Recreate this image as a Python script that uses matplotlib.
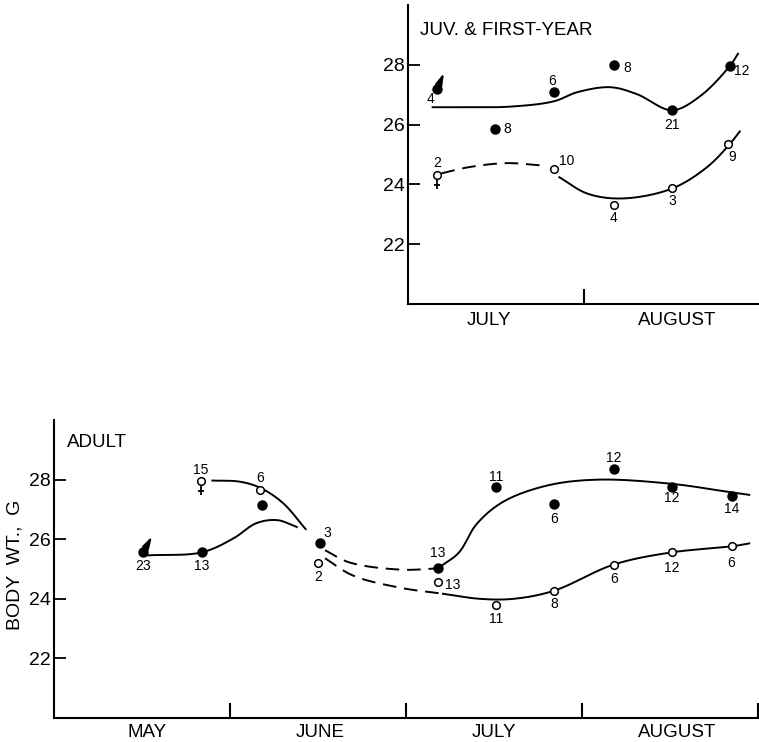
import numpy as np
import matplotlib
matplotlib.use('Agg')
import matplotlib.pyplot as plt
from matplotlib.path import Path

plt.rcParams['font.family'] = ['Liberation Sans', 'DejaVu Sans']

# верхний график: молодые и первогодки (x - месяцы от 1 июля)
juv_m_x = [0.165, 0.494, 0.83, 1.17, 1.5, 1.83]
juv_m_y = [27.19, 25.86, 27.08, 28.0, 26.48, 27.97]
juv_m_n = ['4', '8', '6', '8', '21', '12']
juv_f_x = [0.165, 0.83, 1.17, 1.5, 1.82]
juv_f_y = [24.31, 24.5, 23.32, 23.88, 25.36]
juv_f_n = ['2', '10', '4', '3', '9']

# сглаженные кривые (опорные точки)
juv_m_cx = [0.14, 0.295, 0.58, 0.83, 0.96, 1.15, 1.30, 1.5, 1.66, 1.83, 1.875]
juv_m_cy = [26.58, 26.58, 26.6, 26.78, 27.08, 27.25, 27.02, 26.48, 26.95, 27.97, 28.37]
juv_f_dx = [0.19, 0.35, 0.56, 0.75]
juv_f_dy = [24.37, 24.58, 24.71, 24.64]
juv_f_cx = [0.86, 1.02, 1.22, 1.5, 1.70, 1.83, 1.885]
juv_f_cy = [24.24, 23.69, 23.53, 23.86, 24.58, 25.36, 25.77]

# нижний график: взрослые (x - месяцы от 1 мая)
ad_m_x = [0.506, 0.84, 1.18, 1.51, 2.18, 2.51, 2.84, 3.18, 3.51, 3.85]
ad_m_y = [25.56, 25.56, 27.15, 25.86, 25.02, 27.76, 27.19, 28.37, 27.76, 27.46]
ad_m_n = ['23', '13', '', '3', '13', '11', '6', '12', '12', '14']
ad_f_x = [0.835, 1.17, 1.5, 2.18, 2.51, 2.84, 3.18, 3.51, 3.85]
ad_f_y = [27.97, 27.66, 25.19, 24.58, 23.8, 24.27, 25.15, 25.56, 25.76]
ad_f_n = ['15', '6', '2', '13', '11', '8', '6', '12', '6']

ad_m_c1x = [0.535, 0.84, 1.02, 1.15, 1.27, 1.38]
ad_m_c1y = [25.46, 25.56, 26.03, 26.54, 26.64, 26.41]
ad_m_dx = [1.54, 1.68, 1.97, 2.18]
ad_m_dy = [25.63, 25.22, 24.98, 25.02]
ad_m_c2x = [2.18, 2.30, 2.40, 2.55, 2.8, 3.09, 3.51, 3.83, 3.95]
ad_m_c2y = [25.02, 25.55, 26.5, 27.25, 27.8, 28.0, 27.86, 27.59, 27.49]
ad_f_c1x = [0.9, 1.057, 1.17, 1.3, 1.43]
ad_f_c1y = [27.97, 27.93, 27.73, 27.22, 26.34]
ad_f_dx = [1.54, 1.7, 1.97, 2.21]
ad_f_dy = [25.36, 24.78, 24.37, 24.17]
ad_f_c2x = [2.21, 2.42, 2.61, 2.84, 3.18, 3.51, 3.85, 3.95]
ad_f_c2y = [24.17, 24.0, 24.0, 24.27, 25.15, 25.56, 25.76, 25.86]

juv_months = ['JULY', 'AUGUST']
ad_months = ['MAY', 'JUNE', 'JULY', 'AUGUST']

# смещения подписей (пиксели)
juv_m_off = [(-7, -10), (12, 0), (-2, 11), (13, -3), (0, -15), (12, -5)]
juv_f_off = [(0, 12), (13, 8), (0, -13), (0, -13), (4, -13)]
ad_m_off = [(0, -14), (0, -14), (0, 0), (8, 10), (0, 15), (0, 10), (0, -15), (0, 11), (0, -11), (0, -13)]
ad_f_off = [(0, 11), (0, 12), (0, -14), (15, -3), (0, -14), (0, -13), (0, -14), (0, -16), (0, -17)]

ky = 29.5 / 176  # отношение масштабов осей (пиксели на единицу y / на месяц)


def smooth(xs, ys, n=30):  # центростремительная кривая Катмулла-Рома
    p = np.column_stack([xs, np.array(ys) * ky])
    p = np.vstack([2 * p[0] - p[1], p, 2 * p[-1] - p[-2]])
    out = []
    for i in range(1, len(p) - 2):
        p0, p1, p2, p3 = p[i - 1], p[i], p[i + 1], p[i + 2]
        t0 = 0.0
        t1 = t0 + np.linalg.norm(p1 - p0) ** 0.5
        t2 = t1 + np.linalg.norm(p2 - p1) ** 0.5
        t3 = t2 + np.linalg.norm(p3 - p2) ** 0.5
        t = np.linspace(t1, t2, n)[:, None]
        a1 = (t1 - t) / (t1 - t0) * p0 + (t - t0) / (t1 - t0) * p1
        a2 = (t2 - t) / (t2 - t1) * p1 + (t - t1) / (t2 - t1) * p2
        a3 = (t3 - t) / (t3 - t2) * p2 + (t - t2) / (t3 - t2) * p3
        b1 = (t2 - t) / (t2 - t0) * a1 + (t - t0) / (t2 - t0) * a2
        b2 = (t3 - t) / (t3 - t1) * a2 + (t - t1) / (t3 - t1) * a3
        out.append((t2 - t) / (t2 - t1) * b1 + (t - t1) / (t2 - t1) * b2)
    out = np.vstack(out)
    return out[:, 0], out[:, 1] / ky


# знак самки: ножка с перекладиной под кружком
female = Path([(0, 0), (0, -1), (-0.22, -0.72), (0.22, -0.72)],
              [Path.MOVETO, Path.LINETO, Path.MOVETO, Path.LINETO])

lw = 1.4
dash = (0, (7, 4))


def setup(ax, xmax, months, centers, ticks, pad):
    ax.set_xlim(0, xmax)
    ax.set_ylim(20, 30)
    for s in ['top', 'right']:
        ax.spines[s].set_visible(False)
    for s in ['left', 'bottom']:
        ax.spines[s].set_linewidth(1.5)
    ax.set_yticks([22, 24, 26, 28])
    ax.tick_params(axis='y', direction='in', length=8.5, width=1.3, pad=2, labelsize=14)
    ax.set_xticks(ticks)
    ax.set_xticklabels([''] * len(ticks))
    ax.tick_params(axis='x', which='major', direction='in', length=11, width=1.5)
    ax.set_xticks(centers, months, minor=True)
    ax.tick_params(axis='x', which='minor', length=0, pad=pad, labelsize=13.5)


def points(ax, xs, ys, names, offs, filled):
    if filled:
        ax.plot(xs, ys, 'o', color='black', ms=6.5, zorder=4)
    else:
        ax.plot(xs, ys, 'o', mfc='white', mec='black', mew=1.1, ms=5.5, zorder=4)
    for x, y, t, o in zip(xs, ys, names, offs):
        if t:
            ax.annotate(t, (x, y), xytext=o, textcoords='offset pixels',
                        ha='center', va='center', fontsize=10)


def male(ax, x, y, d):  # знак самца: стрелка от точки
    ax.annotate('', xy=(x, y), xytext=d, textcoords='offset pixels',
                arrowprops=dict(arrowstyle='<|-,head_length=0.7,head_width=0.2',
                                color='black', lw=1.5, shrinkA=0, shrinkB=3,
                                mutation_scale=10), zorder=5)


fig = plt.figure(figsize=(7.59, 7.42), dpi=100)

# верхний график
ax1 = fig.add_axes([0.5375, 0.5903, 0.4638, 0.403])
setup(ax1, 2.0, juv_months, [0.46, 1.53], [1], 6)
ax1.plot(*smooth(juv_m_cx, juv_m_cy), color='black', lw=lw)
ax1.plot(*smooth(juv_f_dx, juv_f_dy), color='black', lw=lw, ls=dash)
ax1.plot(*smooth(juv_f_cx, juv_f_cy), color='black', lw=lw)
ax1.plot(juv_f_x[:1], juv_f_y[:1], marker=female, ms=20, mew=1.3, color='black', ls='none', zorder=3)
points(ax1, juv_m_x, juv_m_y, juv_m_n, juv_m_off, True)
points(ax1, juv_f_x, juv_f_y, juv_f_n, juv_f_off, False)
male(ax1, juv_m_x[0], juv_m_y[0], (7, 16))
ax1.text(0.034, 0.916, 'JUV. & FIRST-YEAR', transform=ax1.transAxes, fontsize=13.5, va='center')

# нижний график
ax2 = fig.add_axes([0.0711, 0.0323, 0.9276, 0.4016])
setup(ax2, 4.0, ad_months, [0.53, 1.51, 2.5, 3.54], [1, 2, 3, 4], 4)
ax2.plot(*smooth(ad_m_c1x, ad_m_c1y), color='black', lw=lw)
ax2.plot(*smooth(ad_m_dx, ad_m_dy), color='black', lw=lw, ls=dash)
ax2.plot(*smooth(ad_m_c2x, ad_m_c2y), color='black', lw=lw)
ax2.plot(*smooth(ad_f_c1x, ad_f_c1y), color='black', lw=lw)
ax2.plot(*smooth(ad_f_dx, ad_f_dy), color='black', lw=lw, ls=dash)
ax2.plot(*smooth(ad_f_c2x, ad_f_c2y), color='black', lw=lw)
ax2.plot(ad_f_x[:1], ad_f_y[:1], marker=female, ms=20, mew=1.3, color='black', ls='none', zorder=3)
points(ax2, ad_m_x, ad_m_y, ad_m_n, ad_m_off, True)
points(ax2, ad_f_x, ad_f_y, ad_f_n, ad_f_off, False)
male(ax2, ad_m_x[0], ad_m_y[0], (9, 16))
ax2.text(0.018, 0.923, 'ADULT', transform=ax2.transAxes, fontsize=13.5, va='center')

fig.text(15 / 759, 1 - 565 / 742, 'BODY  WT.,  G', rotation=90, ha='center', va='center', fontsize=14)

fig.savefig('out.png', dpi=100)
